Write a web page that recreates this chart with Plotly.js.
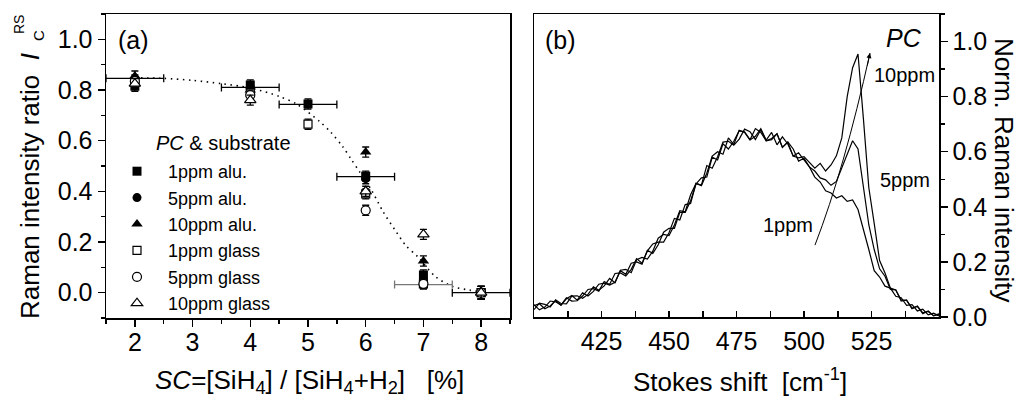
<!DOCTYPE html>
<html><head><meta charset="utf-8">
<script src="https://cdn.plot.ly/plotly-3.0.1.min.js"></script>
<style>html,body{margin:0;padding:0;background:#fff}#chart{width:1018px;height:398px}</style>
</head><body><div id="chart"></div>
<script>
// ---------- panel (a) data ----------
const alu1X = [2, 4, 5, 6, 7, 8];
const alu1Y = [0.815, 0.82, 0.745, 0.46, 0.07, 0.0];
const alu1Err = [0.02, 0.02, 0.02, 0.02, 0.02, 0.025];
const alu5X = [2, 4, 6, 7, 8];
const alu5Y = [0.84, 0.81, 0.45, 0.05, 0.0];
const alu5Err = [0.02, 0.02, 0.02, 0.02, 0.025];
const alu10X = [2, 4, 6, 7, 8];
const alu10Y = [0.855, 0.80, 0.555, 0.125, 0.0];
const alu10Err = [0.02, 0.02, 0.02, 0.02, 0.025];
const gl1X = [2, 4, 5, 6, 7, 8];
const gl1Y = [0.83, 0.79, 0.665, 0.39, 0.035, 0.0];
const gl1Err = [0.02, 0.02, 0.02, 0.02, 0.02, 0.025];
const gl5X = [2, 4, 6, 7, 8];
const gl5Y = [0.835, 0.78, 0.325, 0.035, 0.0];
const gl5Err = [0.02, 0.02, 0.02, 0.02, 0.025];
const gl10X = [2, 4, 6, 7, 8];
const gl10Y = [0.825, 0.76, 0.40, 0.23, 0.0];
const gl10Err = [0.02, 0.02, 0.02, 0.02, 0.025];
// horizontal (SC) uncertainty bars
const hbarX = [2, 4, 5, 6, 8];
const hbarY = [0.846, 0.81, 0.743, 0.458, 0.0];
const hbarErr = [0.5, 0.5, 0.5, 0.5, 0.5];
const hbarGreyX = [7];
const hbarGreyY = [0.032];
const hbarGreyErr = [0.5];
// dotted guide line
const trendX = [2, 2.5, 3, 3.5, 4, 4.5, 4.8, 5.2, 5.4, 5.6, 5.75, 5.9, 6.1, 6.3, 6.5, 6.7, 6.9, 7.2, 7.5, 7.8, 8.0];
const trendY = [0.848, 0.846, 0.838, 0.825, 0.808, 0.775, 0.745, 0.676, 0.632, 0.577, 0.526, 0.475, 0.405, 0.32, 0.25, 0.185, 0.142, 0.065, 0.025, 0.01, 0.003];
const legendNames = ['1ppm alu.', '5ppm alu.', '10ppm alu.', '1ppm glass', '5ppm glass', '10ppm glass'];

// ---------- panel (b) data ----------
const shiftX = [400,402,404,406,408,410,412,414,416,418,420,422,424,426,428,430,432,434,436,438,440,442,444,446,448,450,452,454,456,458,460,462,464,466,468,470,472,474,476,478,480,482,484,486,488,490,492,494,496,498,500,502,504,506,508,510,512,514,516,518,520,522,524,526,528,530,532,534,536,538,540,542,544,546,548,550];
const ppm10 = [0.045,0.026,0.036,0.058,0.055,0.043,0.070,0.058,0.059,0.076,0.100,0.103,0.094,0.129,0.118,0.158,0.160,0.149,0.173,0.212,0.195,0.240,0.265,0.272,0.272,0.306,0.358,0.352,0.408,0.412,0.485,0.477,0.522,0.584,0.600,0.591,0.650,0.626,0.678,0.670,0.643,0.656,0.684,0.642,0.670,0.625,0.654,0.628,0.584,0.578,0.582,0.560,0.540,0.558,0.530,0.552,0.585,0.650,0.800,0.905,0.955,0.720,0.470,0.340,0.205,0.160,0.105,0.098,0.058,0.062,0.030,0.040,0.012,0.022,0.004,0.010];
const ppm5 = [0.027,0.050,0.046,0.036,0.062,0.049,0.048,0.076,0.077,0.068,0.082,0.110,0.097,0.113,0.140,0.124,0.170,0.173,0.161,0.208,0.216,0.210,0.239,0.286,0.300,0.296,0.334,0.386,0.382,0.444,0.485,0.479,0.550,0.540,0.582,0.635,0.638,0.624,0.646,0.682,0.673,0.644,0.680,0.640,0.648,0.665,0.616,0.636,0.610,0.566,0.576,0.545,0.530,0.505,0.498,0.478,0.492,0.540,0.590,0.640,0.610,0.480,0.335,0.245,0.175,0.148,0.100,0.098,0.062,0.060,0.032,0.038,0.015,0.020,0.005,0.012];
const ppm1 = [0.041,0.048,0.030,0.040,0.060,0.043,0.066,0.078,0.061,0.088,0.076,0.093,0.119,0.123,0.116,0.126,0.168,0.155,0.195,0.200,0.192,0.242,0.231,0.262,0.308,0.322,0.322,0.380,0.380,0.422,0.483,0.505,0.508,0.580,0.570,0.629,0.610,0.638,0.676,0.672,0.643,0.684,0.670,0.640,0.644,0.665,0.616,0.634,0.584,0.596,0.570,0.545,0.508,0.490,0.458,0.450,0.432,0.440,0.420,0.425,0.390,0.320,0.245,0.168,0.145,0.112,0.105,0.075,0.070,0.042,0.045,0.022,0.028,0.008,0.014,0.004];
const ramanTicks = [425, 450, 475, 500, 525];
const ramanMinor = [412.5, 437.5, 462.5, 487.5, 512.5, 537.5];

// ---------- styling ----------
const FONT = 'Liberation Sans, Arial, Helvetica, sans-serif';
const BLK = '#000';
const W = 1018, H = 398;
const px = v => v / W, py = v => 1 - v / H;

function errY(arr) { return {type: 'data', array: arr, visible: true, color: BLK, thickness: 1.3, width: 3.5}; }
function pts(x, y, e, name, symbol, filled, size) {
  return {
    x: x, y: y, name: name, type: 'scatter', mode: 'markers', xaxis: 'x', yaxis: 'y',
    error_y: errY(e),
    marker: {symbol: symbol, size: size, color: filled ? BLK : '#fff', line: {color: BLK, width: filled ? 0 : 1.2}},
    cliponaxis: false
  };
}

const traces = [
  {x: trendX, y: trendY, type: 'scatter', mode: 'lines', line: {color: BLK, width: 1.6, dash: '1.5px,4.5px', shape: 'spline', smoothing: 0.8}, showlegend: false, xaxis: 'x', yaxis: 'y', hoverinfo: 'skip'},
  {x: hbarX, y: hbarY, type: 'scatter', mode: 'markers', marker: {size: 1, color: 'rgba(0,0,0,0)'}, error_x: {type: 'data', array: hbarErr, visible: true, color: BLK, thickness: 1.3, width: 4}, showlegend: false, xaxis: 'x', yaxis: 'y'},
  {x: hbarGreyX, y: hbarGreyY, type: 'scatter', mode: 'markers', marker: {size: 1, color: 'rgba(0,0,0,0)'}, error_x: {type: 'data', array: hbarGreyErr, visible: true, color: '#777', thickness: 1.3, width: 4}, showlegend: false, xaxis: 'x', yaxis: 'y'},
  pts(alu1X, alu1Y, alu1Err, legendNames[0], 'square', true, 9),
  pts(alu5X, alu5Y, alu5Err, legendNames[1], 'circle', true, 9),
  pts(alu10X, alu10Y, alu10Err, legendNames[2], 'triangle-up', true, 10),
  pts(gl1X, gl1Y, gl1Err, legendNames[3], 'square', false, 8),
  pts(gl5X, gl5Y, gl5Err, legendNames[4], 'circle', false, 9),
  pts(gl10X, gl10Y, gl10Err, legendNames[5], 'triangle-up', false, 10),
  {x: shiftX, y: ppm1, type: 'scatter', mode: 'lines', line: {color: BLK, width: 1.2}, showlegend: false, xaxis: 'x2', yaxis: 'y2'},
  {x: shiftX, y: ppm5, type: 'scatter', mode: 'lines', line: {color: BLK, width: 1.2}, showlegend: false, xaxis: 'x2', yaxis: 'y2'},
  {x: shiftX, y: ppm10, type: 'scatter', mode: 'lines', line: {color: BLK, width: 1.2}, showlegend: false, xaxis: 'x2', yaxis: 'y2'}
];

const tickFont = {family: FONT, size: 25, color: BLK};
const base = {showgrid: false, zeroline: false, tickcolor: BLK, tickwidth: 1.5, linecolor: BLK, linewidth: 1.5, tickfont: tickFont};
const ghost = {showgrid: false, zeroline: false, showline: false, showticklabels: false, tickcolor: BLK, tickwidth: 1.5, ticks: 'inside'};

const layout = {
  width: W, height: H, margin: {l: 0, r: 0, t: 0, b: 0},
  paper_bgcolor: '#fff', plot_bgcolor: '#fff',
  font: {family: FONT, color: BLK},
  showlegend: true,
  legend: {x: px(106), y: py(153), xanchor: 'left', yanchor: 'top', bgcolor: 'rgba(0,0,0,0)', borderwidth: 0,
           font: {family: FONT, size: 18, color: BLK}, itemwidth: 52, tracegroupgap: 0},
  xaxis: Object.assign({}, base, {domain: [px(106), px(510)], anchor: 'y', range: [1.5, 8.5], tick0: 0, dtick: 1,
    ticks: 'outside', ticklen: 7, showline: true, mirror: true, ticklabelstandoff: -6,
    minor: {dtick: 0.5, ticks: 'outside', ticklen: 4, tickwidth: 1.5, tickcolor: BLK, showgrid: false}}),
  yaxis: Object.assign({}, base, {domain: [py(318), py(14)], anchor: 'x', range: [-0.1, 1.1], tick0: 0, dtick: 0.2, tickformat: '.1f',
    ticks: 'outside', ticklen: 7, showline: true, mirror: true,
    minor: {dtick: 0.1, ticks: 'outside', ticklen: 4, tickwidth: 1.5, tickcolor: BLK, showgrid: false}}),
  xaxis3: Object.assign({}, ghost, {overlaying: 'x', anchor: 'y', side: 'top', range: [1.5, 8.5], tick0: 0, dtick: 1, ticklen: 5,
    minor: {dtick: 0.5, ticks: 'inside', ticklen: 3, tickwidth: 1.5, tickcolor: BLK, showgrid: false}}),
  yaxis3: Object.assign({}, ghost, {overlaying: 'y', anchor: 'x', side: 'right', range: [-0.1, 1.1], tick0: 0, dtick: 0.2, ticklen: 5,
    minor: {dtick: 0.1, ticks: 'inside', ticklen: 3, tickwidth: 1.5, tickcolor: BLK, showgrid: false}}),
  xaxis2: Object.assign({}, base, {domain: [px(534), px(939)], anchor: 'y2', range: [400, 550], tickvals: ramanTicks,
    ticks: 'inside', ticklen: 6, showline: true, mirror: true, ticklabelstandoff: 1,
    minor: {tickvals: ramanMinor, ticks: 'inside', ticklen: 6, tickwidth: 1.5, tickcolor: BLK, showgrid: false}}),
  yaxis2: Object.assign({}, base, {domain: [py(317), py(14)], anchor: 'x2', side: 'right', range: [0, 1.1], tick0: 0, dtick: 0.2, tickformat: '.1f',
    ticks: 'outside', ticklen: 7, showline: true, mirror: true,
    minor: {dtick: 0.1, ticks: 'outside', ticklen: 4, tickwidth: 1.5, tickcolor: BLK, showgrid: false}}),
  xaxis4: Object.assign({}, ghost, {overlaying: 'x2', anchor: 'y2', side: 'top', range: [400, 550], tick0: 400, dtick: 12.5, ticklen: 5}),
  yaxis4: Object.assign({}, ghost, {overlaying: 'y2', anchor: 'x2', side: 'left', range: [0, 1.1], tick0: 0, dtick: 0.1, ticklen: 5}),
  shapes: [
    {type: 'path', xref: 'x2', yref: 'y2', path: 'M 504.07,0.261 Q 514.9,0.537 524.44,0.958', line: {color: BLK, width: 1}}
  ],
  annotations: [
    {text: '(a)', x: px(133), y: py(40), font: {size: 25}},
    {text: '(b)', x: px(560), y: py(40), font: {size: 25}},
    {text: '<i>PC</i>', x: px(904), y: py(38), font: {size: 25}},
    {text: '10ppm', x: px(904), y: py(75), font: {size: 20}},
    {text: '5ppm', x: px(905), y: py(180), font: {size: 20}},
    {text: '1ppm', x: px(788), y: py(225), font: {size: 20}},
    {text: '<i>PC</i> & substrate', x: px(223), y: py(143), font: {size: 20}},
    {text: '<i>SC</i>=[SiH<sub>4</sub>] / [SiH<sub>4</sub>+H<sub>2</sub>]\u00a0\u00a0\u00a0[%]', x: px(309), y: py(381), font: {size: 26}},
    {text: 'Stokes shift\u00a0\u00a0[cm<sup>-1</sup>]', x: px(740), y: py(380), font: {size: 26}},
    {text: 'Norm. Raman intensity', x: px(1004), y: py(170), textangle: 90, font: {size: 26}},
    {text: 'Raman intensity ratio\u00a0\u00a0<i>I</i>', x: px(30), y: py(186), textangle: -90, font: {size: 26}},
    {text: 'RS', x: px(19), y: py(25), textangle: -90, font: {size: 14}},
    {text: 'C', x: px(39), y: py(36), textangle: -90, font: {size: 15}},
    {text: '', x: 524.44, y: 0.958, xref: 'x2', yref: 'y2', showarrow: true, arrowhead: 2, arrowsize: 1, arrowwidth: 1, arrowcolor: BLK, ax: -3, ay: 14, standoff: 0}
  ].map(a => Object.assign({xref: 'paper', yref: 'paper', showarrow: false, xanchor: 'center', yanchor: 'middle'}, a, {font: Object.assign({family: FONT, color: BLK}, a.font || {})}))
};

Plotly.newPlot('chart', traces, layout, {staticPlot: true, displayModeBar: false});
</script>
</body></html>
